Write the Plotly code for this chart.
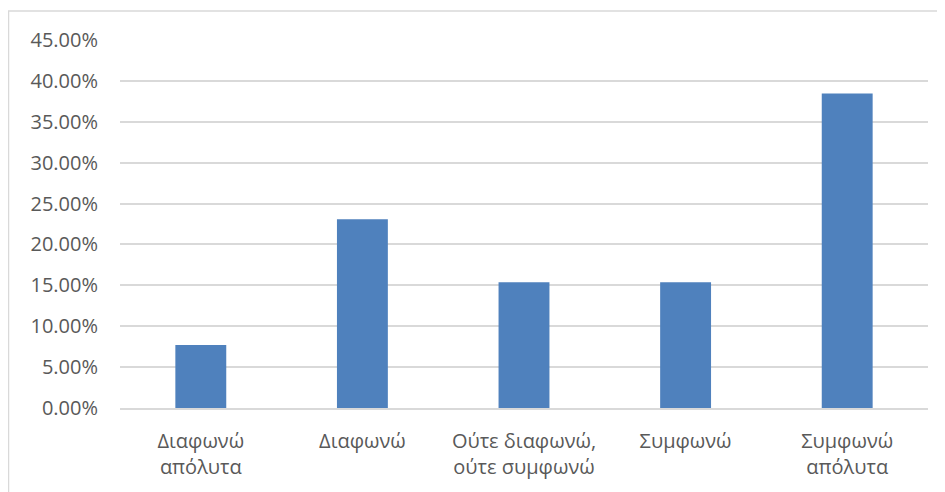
import plotly.graph_objects as go

categories = ["Διαφωνώ<br>απόλυτα", "Διαφωνώ", "Ούτε διαφωνώ,<br>ούτε συμφωνώ", "Συμφωνώ", "Συμφωνώ<br>απόλυτα"]
values = [0.0769, 0.2308, 0.1538, 0.1538, 0.3846]
tick_vals = [0, 0.05, 0.10, 0.15, 0.20, 0.25, 0.30, 0.35, 0.40, 0.45]

fig = go.Figure(go.Bar(x=categories, y=values, marker=dict(color="#4f81bd", line=dict(width=0))))

fig.update_layout(
    width=937, height=484,
    margin=dict(l=112, r=17, t=32, b=84),
    paper_bgcolor="white", plot_bgcolor="white",
    bargap=0.685,
    showlegend=False,
    font=dict(family="Open Sans", size=20, color="#595959"),
    shapes=[dict(type="rect", xref="paper", yref="paper",
                 x0=-0.138, x1=1.2, y0=-0.5, y1=1.0788,
                 line=dict(color="#d9d9d9", width=1.5), fillcolor="rgba(0,0,0,0)", layer="below")],
)
fig.update_yaxes(range=[0, 0.45], tickvals=tick_vals, tickformat=".2%",
                 showgrid=True, gridcolor="#d9d9d9", gridwidth=1.5,
                 zeroline=False, showline=False, ticks="", ticklabelstandoff=21)
fig.update_xaxes(showline=True, linecolor="#d9d9d9", linewidth=1.5, ticks="",
                 ticklabelstandoff=14, showgrid=False)

fig.write_html("out.html")
